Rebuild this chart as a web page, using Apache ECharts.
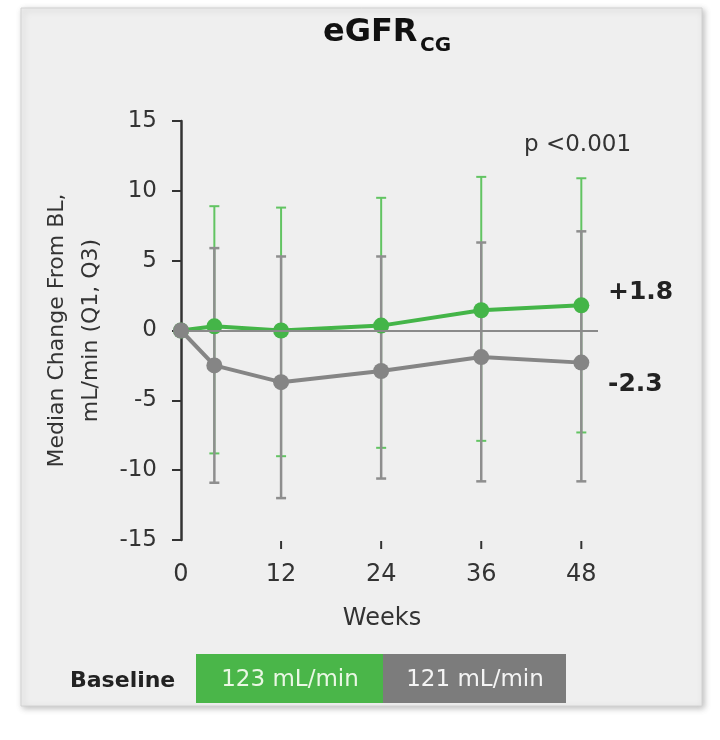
<!DOCTYPE html>
<html>
<head>
<meta charset="utf-8">
<script src="https://cdn.jsdelivr.net/npm/echarts@6/dist/echarts.min.js"></script>
<style>html,body{margin:0;padding:0;background:#fff;}#c{width:720px;height:740px;}</style>
</head>
<body>
<div id="c"></div>
<script>
// ---- data ----
var weeks = [0, 4, 12, 24, 36, 48];
var greenMedian = [0, 0.3, 0.0, 0.35, 1.45, 1.8];
var greyMedian = [0, -2.5, -3.7, -2.9, -1.9, -2.3];
var greenQ1 = [null, -8.8, -9.0, -8.4, -7.9, -7.3];
var greenQ3 = [null, 8.9, 8.8, 9.5, 11.0, 10.9];
var greyQ1 = [null, -10.9, -12.0, -10.6, -10.8, -10.8];
var greyQ3 = [null, 5.9, 5.3, 5.3, 6.3, 7.1];
var xTickLabels = [0, 12, 24, 36, 48];
var xTickMarks = [12, 24, 36, 48];
var yTicks = [-15, -10, -5, 0, 5, 10, 15];
var baselineLabels = ['123 mL/min', '121 mL/min'];
var titleMain = 'eGFR', titleSub = 'CG';
var pText = 'p <0.001';

var FONT = 'DejaVu Sans';
var GREEN = '#44b548', GREY = '#858585';
var GREEN_ERR = '#62c462', GREY_ERR = '#8e8e8e';

function pairs(xs, ys) { return xs.map(function (x, i) { return [x, ys[i]]; }); }
function errData(q1, q3) {
  var out = [];
  weeks.forEach(function (w, i) { if (q1[i] != null) out.push([w, q1[i], q3[i]]); });
  return out;
}
function fmtEnd(v) { return (v > 0 ? '+' : '') + v.toFixed(1); }

function errRender(color, width) {
  return function (params, api) {
    var x = api.value(0);
    var lo = api.coord([x, api.value(1)]);
    var hi = api.coord([x, api.value(2)]);
    var hw = 5;
    var st = { stroke: color, lineWidth: width };
    return {
      type: 'group',
      children: [
        { type: 'line', shape: { x1: lo[0], y1: lo[1], x2: hi[0], y2: hi[1] }, style: st },
        { type: 'line', shape: { x1: lo[0] - hw, y1: lo[1], x2: lo[0] + hw, y2: lo[1] }, style: st },
        { type: 'line', shape: { x1: hi[0] - hw, y1: hi[1], x2: hi[0] + hw, y2: hi[1] }, style: st }
      ]
    };
  };
}
// x-axis tick marks (only at 12..48), placed through the axis scale
function tickRender(params, api) {
  var p = api.coord([api.value(0), yTicks[0]]);
  return { type: 'line', shape: { x1: p[0], y1: p[1] + 1, x2: p[0], y2: p[1] + 9 },
    style: { stroke: '#333', lineWidth: 2 } };
}

var chart = echarts.init(document.getElementById('c'), null, { renderer: 'canvas' });
var lastG = greenMedian[greenMedian.length - 1], lastR = greyMedian[greyMedian.length - 1];

chart.setOption({
  backgroundColor: '#ffffff',
  animation: false,
  textStyle: { fontFamily: FONT },
  grid: { left: 181, top: 121, width: 417, height: 419, containLabel: false },
  xAxis: {
    type: 'value', min: 0, max: 50, interval: 12,
    axisLine: { show: false, onZero: false },
    axisTick: { show: false },
    axisLabel: { customValues: xTickLabels, fontSize: 24, color: '#333', margin: 23, fontFamily: FONT,
      formatter: function (v) { return xTickLabels.indexOf(v) >= 0 ? String(v) : ''; } },
    splitLine: { show: false },
    name: 'Weeks', nameLocation: 'middle', nameGap: 67,
    nameTextStyle: { fontSize: 24, color: '#333', fontFamily: FONT, padding: [0, 15, 0, 0] }
  },
  yAxis: {
    type: 'value', min: yTicks[0], max: yTicks[yTicks.length - 1], interval: 5,
    axisLine: { show: true, lineStyle: { color: '#333', width: 2.5 } },
    axisTick: { show: true, length: 9, lineStyle: { color: '#333', width: 2 } },
    axisLabel: { fontSize: 23, color: '#333', margin: 24, fontFamily: FONT },
    splitLine: { show: false },
    name: 'Median Change From BL,\nmL/min (Q1, Q3)', nameLocation: 'middle', nameRotate: 90, nameGap: 61,
    nameTextStyle: { fontSize: 22, color: '#333', lineHeight: 34, fontFamily: FONT }
  },
  series: [
    { type: 'line', data: [], z: 1, silent: true,
      markLine: { silent: true, symbol: 'none', label: { show: false },
        lineStyle: { color: '#8a8a8a', width: 2, type: 'solid' }, data: [{ yAxis: 0 }] } },
    { type: 'custom', data: xTickMarks.map(function (v) { return [v]; }), renderItem: tickRender, z: 1, silent: true, clip: false },
    { type: 'custom', data: errData(greenQ1, greenQ3), renderItem: errRender(GREEN_ERR, 2), z: 2, silent: true },
    { type: 'custom', data: errData(greyQ1, greyQ3), renderItem: errRender(GREY_ERR, 2.5), z: 3, silent: true },
    { type: 'line', data: pairs(weeks, greenMedian), z: 4, symbol: 'circle', symbolSize: 16,
      lineStyle: { color: GREEN, width: 4 }, itemStyle: { color: GREEN } },
    { type: 'line', data: pairs(weeks, greyMedian), z: 5, symbol: 'circle', symbolSize: 16,
      lineStyle: { color: GREY, width: 4 }, itemStyle: { color: GREY } }
  ],
  graphic: [
    { type: 'rect', z: -10, shape: { x: 21, y: 8, width: 681, height: 698 },
      style: { fill: '#efefef', stroke: '#d2d2d2', lineWidth: 1, shadowBlur: 6, shadowColor: 'rgba(0,0,0,0.25)', shadowOffsetX: 2, shadowOffsetY: 2 } },
    { type: 'text', z: 10, x: 323, y: 33,
      style: { text: titleMain, font: 'bold 32px "DejaVu Sans"', fill: '#111', textAlign: 'left', textVerticalAlign: 'middle' } },
    { type: 'text', z: 10, x: 420, y: 45.5,
      style: { text: titleSub, font: 'bold 20px "DejaVu Sans"', fill: '#111', textAlign: 'left', textVerticalAlign: 'middle' } },
    { type: 'text', z: 10, x: 524, y: 145.5,
      style: { text: pText, font: '23px "DejaVu Sans"', fill: '#333', textAlign: 'left', textVerticalAlign: 'middle' } },
    { type: 'text', z: 10, x: 608, y: 292,
      style: { text: fmtEnd(lastG), font: 'bold 25px "DejaVu Sans"', fill: '#222', textAlign: 'left', textVerticalAlign: 'middle' } },
    { type: 'text', z: 10, x: 608, y: 384,
      style: { text: fmtEnd(lastR), font: 'bold 25px "DejaVu Sans"', fill: '#222', textAlign: 'left', textVerticalAlign: 'middle' } },
    { type: 'text', z: 10, x: 70, y: 681,
      style: { text: 'Baseline', font: 'bold 22px "DejaVu Sans"', fill: '#222', textAlign: 'left', textVerticalAlign: 'middle' } },
    { type: 'rect', z: 5, shape: { x: 196, y: 654, width: 187, height: 49 }, style: { fill: '#4ab649' } },
    { type: 'rect', z: 5, shape: { x: 383, y: 654, width: 183, height: 49 }, style: { fill: '#7c7c7c' } },
    { type: 'text', z: 10, x: 290, y: 680,
      style: { text: baselineLabels[0], font: '23px "DejaVu Sans"', fill: '#eaf7e4', textAlign: 'center', textVerticalAlign: 'middle' } },
    { type: 'text', z: 10, x: 475, y: 680,
      style: { text: baselineLabels[1], font: '23px "DejaVu Sans"', fill: '#f4f4f4', textAlign: 'center', textVerticalAlign: 'middle' } }
  ]
});
</script>
</body>
</html>
